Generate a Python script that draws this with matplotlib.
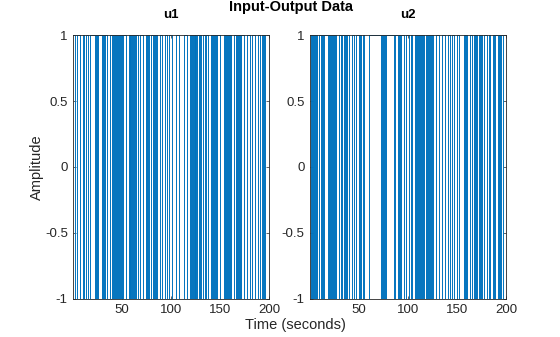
import numpy as np
import matplotlib
matplotlib.use('Agg')
from matplotlib import pyplot as plt

plt.rcParams['font.family'] = ['Liberation Sans', 'DejaVu Sans']

## Data: run lengths (in samples) of each level, starting at +1
t = np.arange(1, 201)
u1_start = 1
u1_runs = [2, 2, 3, 3, 1, 2, 2, 2, 5, 1, 1, 1, 4, 1, 1, 1, 2, 3, 2, 1, 1,
           1, 1, 1, 1, 1, 1, 1, 1, 1, 3, 3, 1, 1, 1, 1, 1, 1, 1, 1,
           2, 2, 3, 3, 1, 1, 1, 2, 2, 1, 1, 1, 1, 3, 2, 3, 2, 2, 3, 4, 3, 5, 3, 3,
           1, 1, 1, 1, 1, 1, 1, 1, 2, 1, 1, 2, 2, 1, 2, 3,
           1, 1, 1, 1, 1, 1, 3, 4, 1, 1, 1, 1, 1, 1, 1,
           3, 2, 1, 1, 1, 1, 1, 3, 3, 3, 2, 3, 3, 2, 3, 1, 1, 1, 5]
u2_start = 1
u2_runs = [1, 1, 1, 1, 1, 1, 1, 2, 2, 1, 1, 1, 4, 1, 1, 1, 1, 1, 1, 1, 1,
           3, 2, 1, 2, 1, 1, 1, 2, 3, 2, 2, 3, 2, 1, 2, 1, 5, 12,
           1, 1, 1, 1, 1, 8, 1, 3, 1, 1, 1, 3, 2, 3, 2, 1, 3,
           1, 1, 1, 1, 1, 1, 1, 1, 1, 3, 1, 1, 1, 1, 1, 1, 1,
           3, 3, 3, 3, 3, 2, 2, 2, 3, 2, 5, 1, 1, 1, 3, 2, 2,
           1, 1, 1, 2, 1, 1, 1, 2, 3, 2, 2, 3, 1, 1, 3, 1, 1, 1, 2, 3]
titles = ['u1', 'u2']
yticks = [-1, -0.5, 0, 0.5, 1]
xticks = [50, 100, 150, 200]


def expand(start, runs):
    # turn run lengths into a +-1 sample sequence
    levels = start * (-1) ** np.arange(len(runs))
    u = np.repeat(levels, runs)
    return u[:len(t)]


signals = [expand(u1_start, u1_runs), expand(u2_start, u2_runs)]

fig = plt.figure(figsize=(5.6, 3.37), dpi=100)
axcolor = '#262626'
lefts = [0.131, 0.554]
for i in range(2):
    ax = fig.add_axes([lefts[i], 0.113, 0.350, 0.783])
    ax.plot(t[:len(signals[i])], signals[i], drawstyle='steps-post',
            color='#0072BD', lw=0.7)
    ax.set_xlim(1, 200)
    ax.set_ylim(-1, 1)
    ax.set_xticks(xticks)
    ax.set_yticks(yticks)
    ax.set_yticklabels(['-1', '-0.5', '0', '0.5', '1'])
    ax.tick_params(direction='in', length=2, width=0.5, colors=axcolor,
                   labelsize=9.5, top=True, right=True, pad=4)
    for s in ax.spines.values():
        s.set_color(axcolor)
        s.set_linewidth(0.6)
    ax.set_title(titles[i], fontsize=9.5, fontweight='bold', pad=12, color='k')

fig.text(0.52, 0.999, 'Input-Output Data', ha='center', va='top',
         fontsize=10.5, fontweight='bold')
fig.text(0.527, 0.035, 'Time (seconds)', ha='center', va='center',
         fontsize=10.5, color=axcolor)
fig.text(0.066, 0.505, 'Amplitude', ha='center', va='center',
         rotation=90, fontsize=10.5, color=axcolor)

fig.savefig('out.png', dpi=100)
